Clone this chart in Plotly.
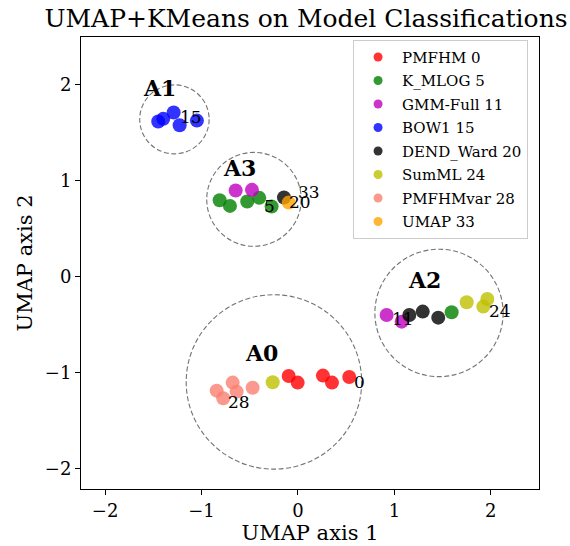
import plotly.graph_objects as go

# Model names (legend order) and colours
models = ["PMFHM 0", "K_MLOG 5", "GMM-Full 11", "BOW1 15",
          "DEND_Ward 20", "SumML 24", "PMFHMvar 28", "UMAP 33"]
colors = ["rgba(255,0,0,0.8)", "rgba(0,128,0,0.8)", "rgba(191,0,191,0.8)",
          "rgba(0,0,255,0.8)", "rgba(0,0,0,0.8)", "rgba(191,191,0,0.8)",
          "rgba(250,128,114,0.8)", "rgba(255,165,0,0.8)"]

# UMAP embedding of each model's classifications
pmfhm_x = [-0.096, -0.003, 0.259, 0.353, 0.532]
pmfhm_y = [-1.037, -1.106, -1.033, -1.106, -1.047]
kmlog_x = [-0.812, -0.705, -0.526, -0.401, -0.273, 1.594]
kmlog_y = [0.797, 0.738, 0.783, 0.822, 0.731, -0.372]
gmm_x = [-0.646, -0.477, 0.920, 1.076]
gmm_y = [0.898, 0.905, -0.400, -0.470]
bow1_x = [-1.449, -1.397, -1.289, -1.227, -1.048]
bow1_y = [1.618, 1.646, 1.712, 1.580, 1.628]
dend_x = [-0.145, 1.155, 1.294, 1.455]
dend_y = [0.825, -0.400, -0.365, -0.428]
summl_x = [1.750, 1.964, 1.922, -0.262]
summl_y = [-0.267, -0.233, -0.313, -1.102]
pmfvar_x = [-0.843, -0.775, -0.677, -0.636, -0.470]
pmfvar_y = [-1.190, -1.269, -1.106, -1.200, -1.159]
umap_x = [-0.096]
umap_y = [0.772]

series_x = [pmfhm_x, kmlog_x, gmm_x, bow1_x, dend_x, summl_x, pmfvar_x, umap_x]
series_y = [pmfhm_y, kmlog_y, gmm_y, bow1_y, dend_y, summl_y, pmfvar_y, umap_y]

# Model id labels
id_text = ["15", "5", "33", "20", "11", "24", "0", "28"]
id_x = [-1.110, -0.297, 0.111, 0.018, 1.092, 2.095, 0.643, -0.609]
id_y = [1.664, 0.738, 0.886, 0.776, -0.445, -0.357, -1.096, -1.305]

# KMeans clusters: label, label position, circle centre and radius
clus_text = ["A0", "A1", "A2", "A3"]
clus_lx = [-0.377, -1.439, 1.317, -0.602]
clus_ly = [-0.799, 1.966, -0.035, 1.131]
clus_cx = [-0.249, -1.281, 1.463, -0.456]
clus_cy = [-1.099, 1.641, -0.379, 0.806]
clus_r = [0.91, 0.36, 0.665, 0.49]

FONT = "DejaVu Serif"

fig = go.Figure()

for xs, ys, c in zip(series_x, series_y, colors):
    fig.add_trace(go.Scatter(x=xs, y=ys, mode="markers", showlegend=False,
                             marker=dict(size=14, color=c, line=dict(width=0))))

# legend entries with smaller symbols, one group each for even row spacing
for i, (name, c) in enumerate(zip(models, colors)):
    fig.add_trace(go.Scatter(x=[None], y=[None], mode="markers", name=name,
                             legendgroup=f"g{i}",
                             marker=dict(size=9, color=c, line=dict(width=0))))

for cx, cy, r in zip(clus_cx, clus_cy, clus_r):
    fig.add_shape(type="circle", xref="x", yref="y",
                  x0=cx - r, x1=cx + r, y0=cy - r, y1=cy + r,
                  line=dict(color="rgba(100,100,100,0.9)", width=1.1, dash="5px,2.5px"))

for t, x, y in zip(id_text, id_x, id_y):
    fig.add_annotation(x=x, y=y, text=t, showarrow=False,
                       xanchor="center", yanchor="middle",
                       font=dict(family=FONT, size=17, color="black"))

for t, x, y in zip(clus_text, clus_lx, clus_ly):
    fig.add_annotation(x=x, y=y, text="<b>" + t + "</b>", showarrow=False,
                       xanchor="center", yanchor="middle",
                       font=dict(family=FONT, size=22, color="black"))

axis_common = dict(showgrid=False, zeroline=False, showline=True, mirror=True,
                   linecolor="black", linewidth=1, ticks="outside", ticklen=5,
                   tickcolor="black", tickwidth=1, dtick=1, automargin=False,
                   tickfont=dict(family=FONT, size=18, color="black"))

fig.update_xaxes(range=[-2.25, 2.50], tick0=0,
                 title=dict(text="UMAP axis 1", standoff=4,
                            font=dict(family=FONT, size=21, color="black")),
                 **axis_common)
fig.update_yaxes(range=[-2.216, 2.50], tick0=0,
                 title=dict(text="UMAP axis 2", standoff=6,
                            font=dict(family=FONT, size=21, color="black")),
                 **axis_common)

fig.update_layout(
    width=570, height=546,
    margin=dict(l=81, r=31, t=37, b=57),
    plot_bgcolor="white", paper_bgcolor="white",
    title=dict(text="UMAP+KMeans on Model Classifications",
               x=306 / 570, xanchor="center", y=1 - 18 / 546, yanchor="middle",
               font=dict(family=FONT, size=25, color="black")),
    legend=dict(x=0.594, y=0.994, xanchor="left", yanchor="top",
                bgcolor="rgba(255,255,255,0.8)", bordercolor="#cccccc", borderwidth=1,
                font=dict(family=FONT, size=15, color="black"),
                itemwidth=38, tracegroupgap=1),
)

fig.write_html("out.html")
